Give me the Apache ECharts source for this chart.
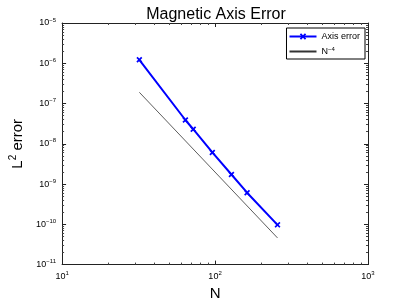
<!DOCTYPE html>
<html><head><meta charset="utf-8">
<script src="https://cdn.jsdelivr.net/npm/echarts@6/dist/echarts.min.js"></script>
<style>html,body{margin:0;padding:0;background:#fff}#c{width:407px;height:306px}</style>
</head><body><div id="c"></div>
<script>
const nValues = [32, 64, 72, 96, 128, 162, 256];
const axisError = [1.22e-6, 3.9e-8, 2.3e-8, 6.1e-9, 1.73e-9, 6.1e-10, 9.7e-11];
const refN = [32, 256];
const refValues = [1.9e-7, 4.6e-11];
const titleText = 'Magnetic Axis Error';
const seriesNames = ['Axis error', 'N{sup|\u22124}'];

const FONT = '"Liberation Sans", Arial, Helvetica, sans-serif';
const chart = echarts.init(document.getElementById('c'), null, {renderer: 'canvas'});
const expFmt = v => '10{sup|' + String(Math.round(Math.log10(v))).replace('-', '\u2212') + '}';
const labelRich = {sup: {fontSize: 6, padding: [0, 0, 6, 0], fontFamily: FONT, color: '#000'}};
const axisLine = {show: true, onZero: false, lineStyle: {color: '#222', width: 1}};
const xCommon = {type: 'log', logBase: 10, min: 10, max: 1000, interval: 1, splitLine: {show: false},
  axisLine: axisLine, axisTick: {inside: true, length: 4, lineStyle: {color: '#222'}},
  minorTick: {show: true, splitNumber: 9, length: 2, lineStyle: {color: '#444'}}};
const yCommon = {type: 'log', logBase: 10, min: 1e-11, max: 1e-5, interval: 1, splitLine: {show: false},
  axisLine: axisLine, axisTick: {inside: true, length: 4, lineStyle: {color: '#222'}},
  minorTick: {show: true, splitNumber: 9, length: 2, lineStyle: {color: '#444'}}};
const xPath = 'path://M0,2L2,0L5,3L8,0L10,2L7,5L10,8L8,10L5,7L2,10L0,8L3,5Z';

chart.setOption({
  animation: false,
  backgroundColor: '#fff',
  title: {text: titleText, left: 211, top: 2, textAlign: 'center',
    textStyle: {fontFamily: FONT, fontSize: 16, fontWeight: 'normal', color: '#000'}},
  grid: {left: 53, right: 39, top: 23, bottom: 35, containLabel: false},
  legend: {orient: 'vertical', right: 42, top: 28, borderColor: '#000', borderWidth: 1,
    backgroundColor: '#fff', padding: [4, 5, 3, 2], itemGap: 5, itemWidth: 27, itemHeight: 8,
    textStyle: {fontFamily: FONT, fontSize: 9, color: '#000', rich: {sup: {fontSize: 6, padding: [0,0,5,0], fontFamily: FONT, color:'#000'}}},
    data: [{name: seriesNames[0]}, {name: seriesNames[1], itemStyle: {opacity: 0}}]},
  xAxis: [
    Object.assign({}, xCommon, {position: 'bottom', name: 'N', nameLocation: 'middle', nameGap: 14,
      nameTextStyle: {fontFamily: FONT, fontSize: 15, color: '#000'},
      axisLabel: {formatter: expFmt, margin: 6, fontFamily: FONT, fontSize: 9, color: '#000', rich: labelRich}}),
    Object.assign({}, xCommon, {position: 'top', axisLabel: {show: false}})
  ],
  yAxis: [
    Object.assign({}, yCommon, {position: 'left', name: 'L{sup|2} error', nameLocation: 'middle', nameGap: 30,
      nameTextStyle: {fontFamily: FONT, fontSize: 15, color: '#000', rich: {sup: {fontSize: 10, padding: [0,0,9,0], fontFamily: FONT, color: '#000'}}},
      axisLabel: {formatter: expFmt, margin: 6, fontFamily: FONT, fontSize: 9, color: '#000', rich: labelRich}}),
    Object.assign({}, yCommon, {position: 'right', axisLabel: {show: false}})
  ],
  series: [
    {name: seriesNames[0], type: 'line', xAxisIndex: 0, yAxisIndex: 0,
      data: nValues.map((n, i) => [n, axisError[i]]),
      lineStyle: {color: '#0000ff', width: 2}, itemStyle: {color: '#0000ff'},
      symbol: xPath, symbolSize: 6, showSymbol: true},
    {name: seriesNames[1], type: 'line', xAxisIndex: 0, yAxisIndex: 0,
      data: refN.map((n, i) => [n, refValues[i]]),
      lineStyle: {color: '#333', width: 0.8}, itemStyle: {color: '#888'}, symbol: 'none'}
  ]
});
</script></body></html>
